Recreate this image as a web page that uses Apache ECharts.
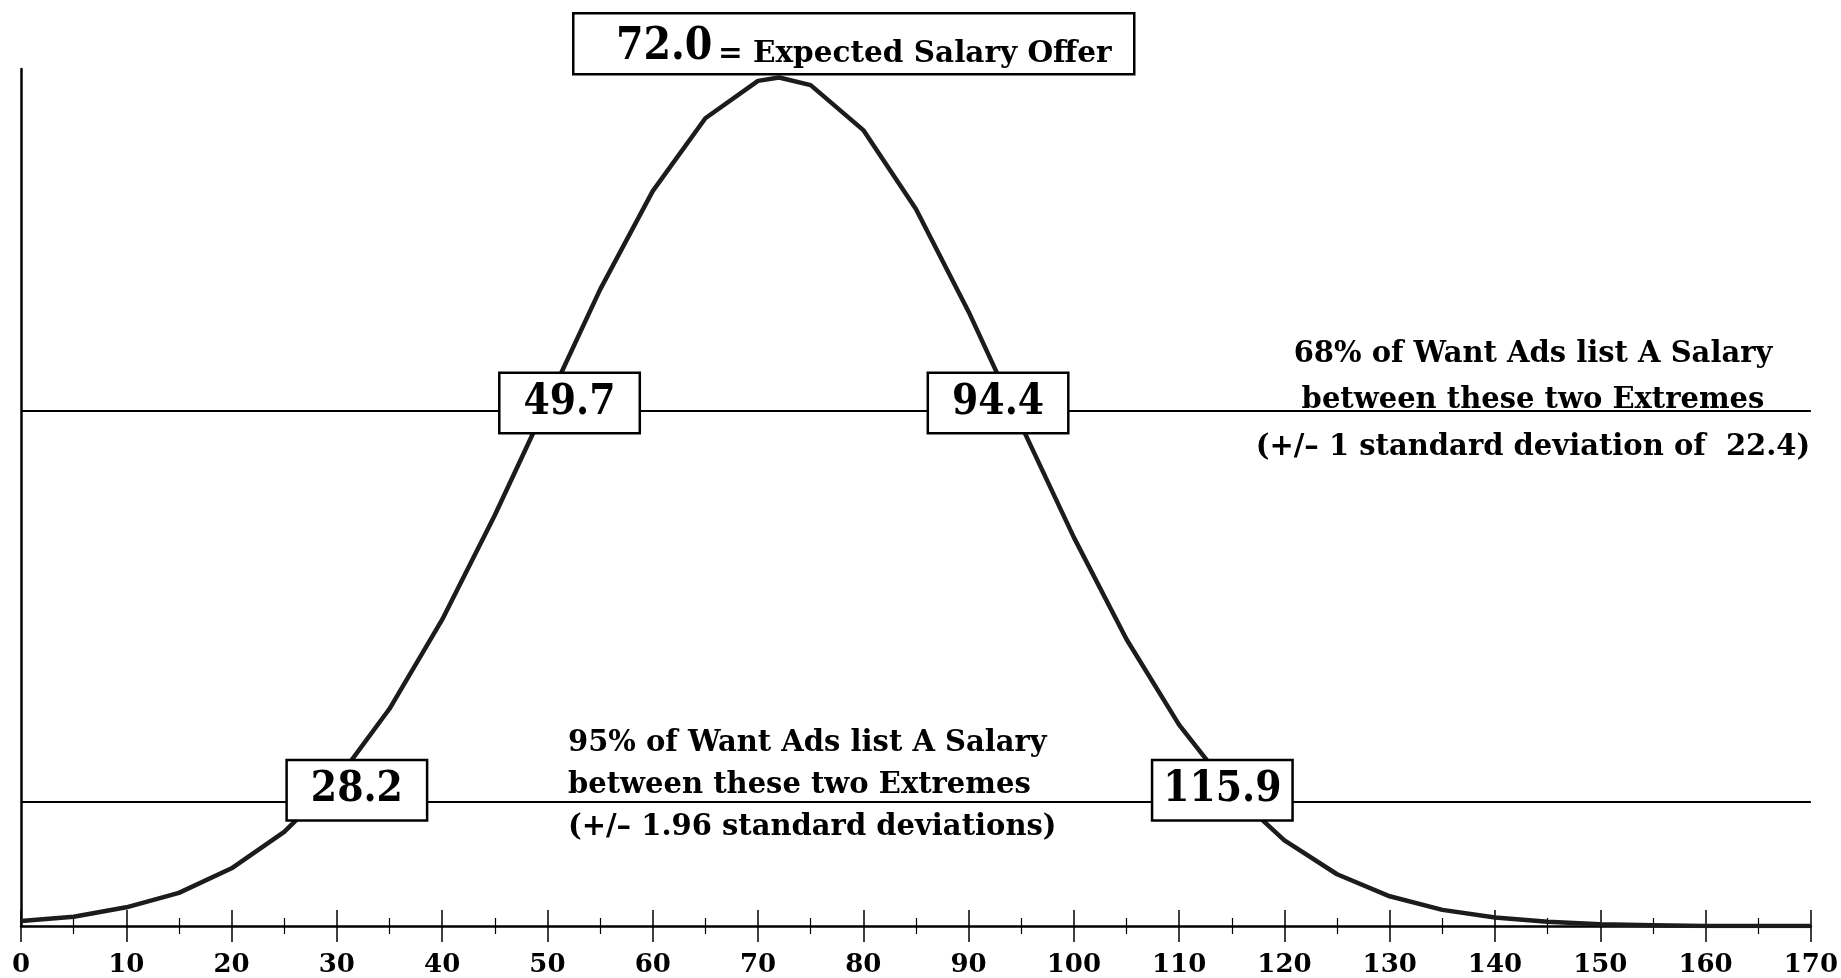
<!DOCTYPE html>
<html>
<head>
<meta charset="utf-8">
<script src="https://cdn.jsdelivr.net/npm/echarts@6/dist/echarts.min.js"></script>
<style>
  html, body { margin: 0; padding: 0; background: #fff; }
  #chart { width: 1841px; height: 978px; }
</style>
</head>
<body>
<div id="chart"></div>
<script>
// ---- data ----
const salaryX = [0, 5, 10, 15, 20, 25, 30, 35, 40, 45, 50, 55, 60, 65, 70, 72,
  75, 80, 85, 90, 95, 100, 105, 110, 115, 120, 125, 130, 135, 140, 145, 150, 155, 160, 165, 170];
const relativeFrequency = [0.6, 1.1, 2.2, 3.9, 6.8, 11.1, 17.2, 25.6, 36.1, 48.4, 61.7, 75.0, 86.6, 95.2, 99.6, 100,
  99.1, 93.8, 84.5, 72.4, 59.0, 45.8, 33.8, 23.7, 15.8, 10.1, 6.1, 3.5, 1.9, 1.0, 0.5, 0.2, 0.1, 0.0, 0.0, 0.0];
const oneSigmaBounds = [49.7, 94.4];
const oneSigmaLevel = 60.7;
const twoSigmaBounds = [28.2, 115.9];
const twoSigmaLevel = 14.7;
const expectedOffer = 72.0;
const xTickLabels = [0, 10, 20, 30, 40, 50, 60, 70, 80, 90, 100, 110, 120, 130, 140, 150, 160, 170];
const oneSigmaText = ['68% of Want Ads list A Salary', 'between these two Extremes', '(+/\u2013 1 standard deviation of  22.4)'];
const twoSigmaText = ['95% of Want Ads list A Salary', 'between these two Extremes', '(+/\u2013 1.96 standard deviations)'];
const titleText = '= Expected Salary Offer';

// ---- chart ----
const FONT = '"DejaVu Serif", serif';
const NUMFONT = '"DejaVu Serif Condensed", "DejaVu Serif", serif';
const chart = echarts.init(document.getElementById('chart'), null, { renderer: 'canvas' });

const boxLabel = {
  show: true,
  position: 'inside',
  formatter: p => Number(p.value).toFixed(1),
  fontFamily: NUMFONT,
  fontWeight: 'bold',
  fontSize: 42,
  lineHeight: 44,
  color: '#000',
  backgroundColor: '#fff',
  borderColor: '#000',
  borderWidth: 2.5,
  padding: [8, 10, 6, 10],
  width: 118,
  align: 'center'
};

// anchor positions of each box (data x), relative to the band value
const boxAnchorX = { 49.7: 52.1, 94.4: 92.8, 28.2: 31.9, 115.9: 114.1 };

function boxPoint(v, level, dy) {
  return { coord: [boxAnchorX[v], level], value: v, label: Object.assign({}, boxLabel, { offset: [0, dy] }) };
}

const tickLabelStyle = {
  fontFamily: FONT, fontWeight: 'bold', fontSize: 26, color: '#000', margin: 26,
  formatter: v => (xTickLabels.indexOf(v) >= 0 ? String(v) : '')
};

const option = {
  animation: false,
  backgroundColor: '#fff',
  grid: { left: 21, right: 29, top: 69, bottom: 51, containLabel: false },
  xAxis: [
    {
      type: 'value', min: 0, max: 170, interval: 10,
      axisLine: { show: true, lineStyle: { color: '#000', width: 2.5 } },
      axisTick: { show: true, length: 16, lineStyle: { color: '#000', width: 1.5 } },
      minorTick: { show: true, splitNumber: 2, length: 8, lineStyle: { color: '#000', width: 1.2 } },
      axisLabel: tickLabelStyle,
      splitLine: { show: false }, minorSplitLine: { show: false }
    },
    {
      type: 'value', min: 0, max: 170, interval: 10, position: 'bottom',
      axisLine: { show: false },
      axisTick: { show: true, inside: true, length: 16, lineStyle: { color: '#000', width: 1.5 } },
      minorTick: { show: true, splitNumber: 2, length: 8, lineStyle: { color: '#000', width: 1.2 } },
      axisLabel: { show: false },
      splitLine: { show: false }, minorSplitLine: { show: false }
    }
  ],
  yAxis: {
    type: 'value', min: 0, max: 101,
    axisLine: { show: true, lineStyle: { color: '#000', width: 2.5 } },
    axisTick: { show: false },
    axisLabel: { show: false },
    splitLine: { show: false }
  },
  series: [
    {
      type: 'line',
      xAxisIndex: 0,
      data: salaryX.map((x, i) => [x, relativeFrequency[i]]),
      symbol: 'none',
      smooth: false,
      lineStyle: { color: '#1c1c1c', width: 4.5, join: 'round' },
      z: 3,
      markLine: {
        silent: true,
        symbol: 'none',
        label: { show: false },
        lineStyle: { color: '#000', width: 2, type: 'solid' },
        data: [
          [{ coord: [0, oneSigmaLevel] }, { coord: [170, oneSigmaLevel] }],
          [{ coord: [0, twoSigmaLevel] }, { coord: [170, twoSigmaLevel] }]
        ]
      },
      markPoint: {
        silent: true,
        symbol: 'rect',
        symbolSize: 1,
        itemStyle: { color: 'rgba(0,0,0,0)' },
        data: [
          boxPoint(oneSigmaBounds[0], oneSigmaLevel, -8),
          boxPoint(oneSigmaBounds[1], oneSigmaLevel, -8),
          boxPoint(twoSigmaBounds[0], twoSigmaLevel, -11),
          boxPoint(twoSigmaBounds[1], twoSigmaLevel, -11)
        ]
      }
    }
  ],
  graphic: [
    {
      type: 'rect', left: 572, top: 12, z: 10,
      shape: { width: 561, height: 61 },
      style: { fill: '#fff', stroke: '#000', lineWidth: 2.5 }
    },
    {
      type: 'text', x: 616, y: 48, z: 11,
      style: { text: expectedOffer.toFixed(1), fontFamily: NUMFONT, fontWeight: 'bold', fontSize: 44,
        fill: '#000', verticalAlign: 'middle', align: 'left' }
    },
    {
      type: 'text', x: 718, y: 54, z: 11,
      style: { text: titleText, fontFamily: FONT, fontWeight: 'bold', fontSize: 29.5,
        fill: '#000', verticalAlign: 'middle', align: 'left' }
    },
    {
      type: 'text', x: 1533, y: 331, z: 11,
      style: { text: oneSigmaText.join('\n'), fontFamily: FONT, fontWeight: 'bold', fontSize: 29,
        lineHeight: 46.5, fill: '#000', align: 'center', verticalAlign: 'top' }
    },
    {
      type: 'text', x: 568, y: 722, z: 11,
      style: { text: twoSigmaText.join('\n'), fontFamily: FONT, fontWeight: 'bold', fontSize: 29,
        lineHeight: 42, fill: '#000', align: 'left', verticalAlign: 'top' }
    }
  ]
};
chart.setOption(option);
</script>
</body>
</html>
